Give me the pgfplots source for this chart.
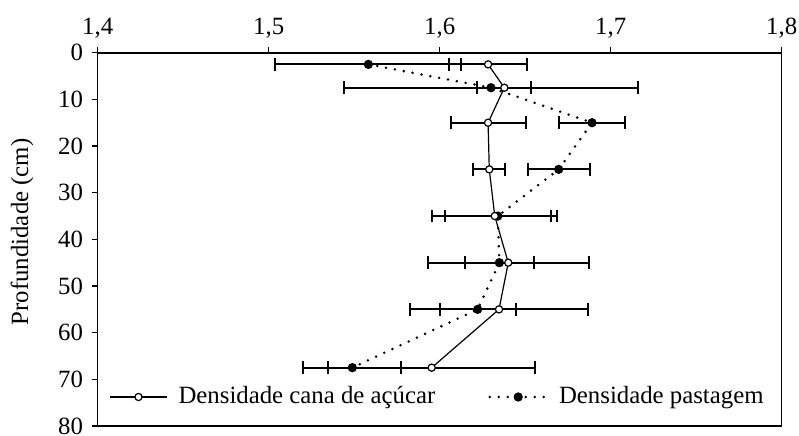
\documentclass[border=0pt]{standalone}
\usepackage{fontspec}
\setmainfont{Liberation Serif}
\usepackage{pgfplots}
\usepackage{pgfplotstable}
\pgfplotsset{compat=1.18}
\pgfplotstableread{
y x e
2.5 1.5583 0.0544
7.5 1.6300 0.0860
15 1.6891 0.0193
25 1.6696 0.0181
35 1.6340 0.0310
45 1.6349 0.0200
55 1.6222 0.0222
67.5 1.5489 0.0286
}\pastagem
\pgfplotstableread{
y x e
2.5 1.6283 0.0229
7.5 1.6378 0.0158
15 1.6283 0.0219
25 1.6290 0.0094
35 1.6322 0.0366
45 1.6401 0.0472
55 1.6347 0.0520
67.5 1.5953 0.0605
}\cana
\begin{document}
\fontsize{12.4}{14}\selectfont
\begin{tikzpicture}
\begin{axis}[
  at={(0,0)}, anchor=south west,
  scale only axis, width=342pt, height=186.65pt,
  xmin=1.4, xmax=1.8, ymin=0, ymax=80,
  y dir=reverse,
  xtick={1.4,1.5,1.6,1.7,1.8},
  ytick={0,10,...,80},
  xtick pos=right, xticklabel pos=right,
  ytick pos=left,
  tick align=outside,
  major tick length=3pt,
  axis line style={line width=0.8pt},
  tick style={line width=0.6pt, black},
  /pgf/number format/assume math mode=true,
  xticklabel style={/pgf/number format/.cd, fixed, fixed zerofill, precision=1, use comma},
  yticklabel style={/pgf/number format/.cd, fixed, precision=0},
  ylabel={Profundidade (cm)},
  ylabel style={at={(axis description cs:-0.1107,0.52)}, anchor=center},
  legend image code/.code={\draw[mark repeat=2,mark phase=2,#1] plot coordinates {(0cm,0cm) (0.5cm,0cm) (1cm,0cm)};},
  legend style={draw=none, fill=none, legend columns=2, at={(axis description cs:0.0166,0.0777)}, anchor=west, inner sep=0pt,
    /tikz/every odd column/.append style={column sep=3.5pt},
    /tikz/every even column/.append style={column sep=24.5pt}},
  legend cell align=left,
]
\addplot[black, line width=1.4pt, dash pattern=on 0pt off 4.5pt, line cap=round,
  mark=*, mark size=2pt, mark options={solid, line width=0.6pt},
  forget plot,
  error bars/.cd, x dir=both, x explicit, error mark=|,
  error bar style={solid, line width=1pt, line cap=butt},
  error mark options={solid, line width=1pt, mark size=3.15pt}]
  table[x=x, y=y, x error=e]{\pastagem};
\addplot[black, line width=0.6pt,
  mark=*, mark size=1.8pt, mark options={fill=white, solid},
  forget plot,
  error bars/.cd, x dir=both, x explicit, error mark=|,
  error bar style={solid, line width=1pt, line cap=butt},
  error mark options={solid, line width=1pt, mark size=3.15pt}]
  table[x=x, y=y, x error=e]{\cana};
\addlegendimage{black, line width=0.6pt, mark=*, mark size=1.8pt, mark options={fill=white, solid}}
\addlegendentry{Densidade cana de açúcar}
\addlegendimage{black, line width=1.4pt, dash pattern=on 0pt off 4.5pt, line cap=round, mark=*, mark size=2pt, mark options={solid, line width=0.6pt}}
\addlegendentry{Densidade pastagem}
\end{axis}
\pgfresetboundingbox
\path (-48.85pt,-4.5pt) rectangle (350.65pt,213pt);
\end{tikzpicture}
\end{document}
